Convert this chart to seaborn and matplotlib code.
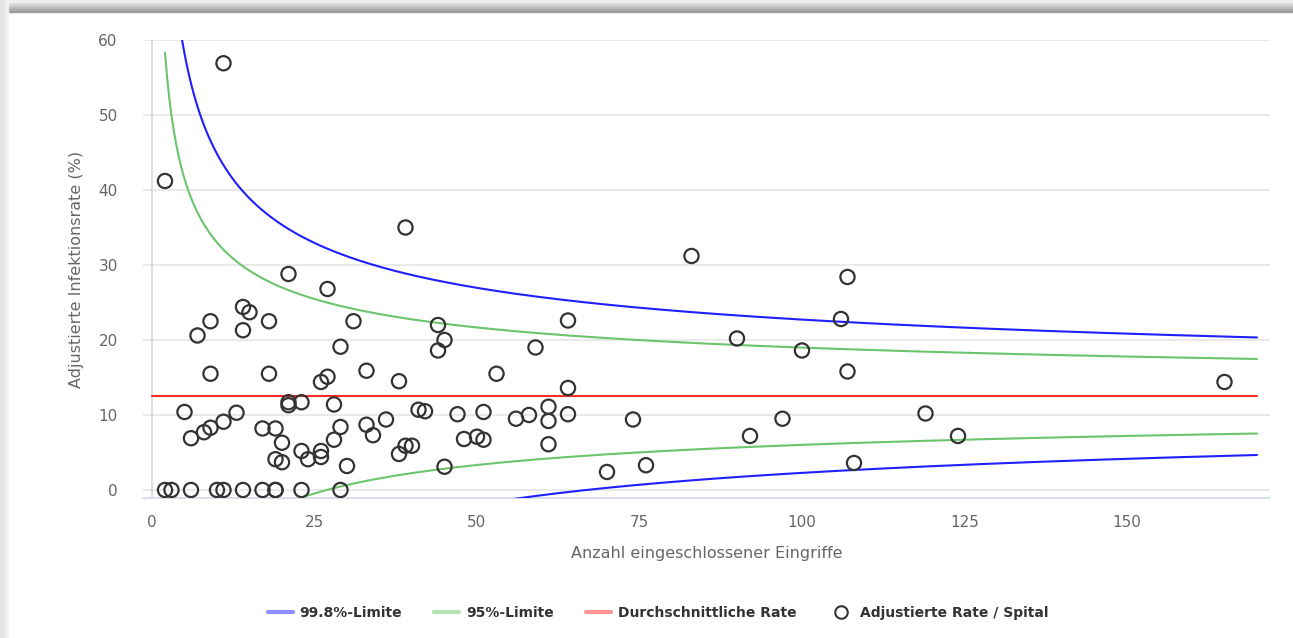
import numpy as np
import pandas as pd
import matplotlib
matplotlib.use("Agg")
import matplotlib.pyplot as plt
from matplotlib.lines import Line2D
from matplotlib.patches import Rectangle
import seaborn as sns

sns.set_theme(style="white")
plt.rcParams['font.family'] = ['DejaVu Sans']

# funnel definition
avg_rate = 12.5          # Durchschnittliche Rate (%)
z_998 = 3.09             # 99.8%-Limite
z_95 = 1.96              # 95%-Limite
n_range = (2, 170)
avg_range = (0, 170)

# hospitals: number of included procedures / adjusted infection rate (%)
hosp_n = [2, 3, 6, 10, 11, 14, 17, 19, 19, 23, 29,
          2, 11, 39, 83, 107, 21, 27, 14, 15, 14, 18, 9, 7, 31, 44, 45, 44, 29,
          64, 59, 90, 106, 100, 107, 9, 18, 27, 26, 33, 38, 53, 64, 165,
          5, 13, 21, 21, 23, 28, 11, 9, 8, 6, 17, 19, 20, 19, 20, 23, 24, 26,
          26, 28, 29, 30, 33, 34, 36, 38, 39, 40, 41, 42, 47, 51, 48, 50, 51,
          45, 56, 58, 61, 61, 61, 64, 70, 74, 76, 92, 97, 108, 119, 124]
hosp_rate = [0, 0, 0, 0, 0, 0, 0, 0, 0, 0, 0,
             41.2, 56.9, 35.0, 31.2, 28.4, 28.8, 26.8, 24.4, 23.7, 21.3, 22.5, 22.5, 20.6, 22.5, 22.0, 20.0, 18.6, 19.1,
             22.6, 19.0, 20.2, 22.8, 18.6, 15.8, 15.5, 15.5, 15.1, 14.4, 15.9, 14.5, 15.5, 13.6, 14.4,
             10.4, 10.3, 11.7, 11.3, 11.7, 11.4, 9.1, 8.3, 7.7, 6.9, 8.2, 8.2, 6.3, 4.1, 3.7, 5.2, 4.1, 5.2,
             4.4, 6.7, 8.4, 3.2, 8.7, 7.3, 9.4, 4.8, 5.9, 5.9, 10.7, 10.5, 10.1, 10.4, 6.8, 7.1, 6.7,
             3.1, 9.5, 10.0, 11.1, 9.2, 6.1, 10.1, 2.4, 9.4, 3.3, 7.2, 9.5, 3.6, 10.2, 7.2]

x_ticks = [0, 25, 50, 75, 100, 125, 150]
y_ticks = [0, 10, 20, 30, 40, 50, 60]

c_blue = '#1f1fff'
c_green = '#6cc46c'
c_red = '#ff2a2a'
c_text = '#666666'

# control limits around the average rate
p = avg_rate / 100
n = np.linspace(n_range[0], n_range[1], 500)
se = np.sqrt(p * (1 - p) / n) * 100
limits = pd.DataFrame({
    'n': n,
    'up998': avg_rate + z_998 * se, 'lo998': avg_rate - z_998 * se,
    'up95': avg_rate + z_95 * se, 'lo95': avg_rate - z_95 * se,
})
avg_line = pd.DataFrame({'n': list(avg_range), 'avg': [avg_rate, avg_rate]})
points = pd.DataFrame({'n': hosp_n, 'rate': hosp_rate})

fig = plt.figure(figsize=(12.93, 6.38), dpi=100)
fig.patch.set_facecolor('white')

# screenshot frame shadow (top bar + left edge)
for i, g in enumerate(['#9a9a9a', '#a8a8a8', '#b8b8b8', '#cacaca', '#dcdcdc', '#eeeeee']):
    fig.patches.append(Rectangle((0, 1 - (12 - 2 * i) / 638), 1, 2 / 638, transform=fig.transFigure,
                                 color=g, zorder=0))
fig.patches.append(Rectangle((0, 0), 5 / 1293, 1, transform=fig.transFigure, color='#e4e4e4', zorder=0))
fig.patches.append(Rectangle((5 / 1293, 0), 3 / 1293, 1, transform=fig.transFigure, color='#f2f2f2', zorder=0))

ax = fig.add_axes([142.7 / 1293, 1 - 498 / 638, (1270 - 142.7) / 1293, (498 - 40) / 638])
ax.set_facecolor('none')

for col, color in [('up998', c_blue), ('lo998', c_blue), ('up95', c_green), ('lo95', c_green)]:
    sns.lineplot(data=limits, x='n', y=col, color=color, lw=1.5, ax=ax, legend=False, zorder=3)
sns.lineplot(data=avg_line, x='n', y='avg', color=c_red, lw=1.5, ax=ax, legend=False, zorder=3)

sns.scatterplot(data=points, x='n', y='rate', ax=ax, s=105, facecolors='none',
                edgecolor='#333333', linewidth=1.6, zorder=4, legend=False)

ax.set_xlim(-1.43, 172)
ax.set_ylim(-1.07, 60)
ax.set_xticks(x_ticks)
ax.set_yticks(y_ticks)
ax.grid(axis='y', color='#e3e3e3', lw=1.1)
ax.grid(axis='x', visible=False)
ax.axvline(0, color='#d4d4d4', lw=1.1, zorder=1)
for s in ['top', 'right', 'left']:
    ax.spines[s].set_visible(False)
ax.spines['bottom'].set_color('#ccd6eb')
ax.spines['bottom'].set_linewidth(1.1)
ax.tick_params(axis='x', colors='#ccd6eb', length=8, width=1, pad=4, labelcolor=c_text, labelsize=11)
ax.tick_params(axis='y', length=0, pad=18, labelcolor=c_text, labelsize=11)

ax.set_xlabel('Anzahl eingeschlossener Eingriffe', color=c_text, fontsize=11.5, labelpad=12)
ax.set_ylabel('Adjustierte Infektionsrate (%)', color=c_text, fontsize=11.5, labelpad=10)

handles = [
    Line2D([], [], color=c_blue, alpha=0.5, lw=3),
    Line2D([], [], color=c_green, alpha=0.5, lw=3),
    Line2D([], [], color=c_red, alpha=0.5, lw=3),
    Line2D([], [], ls='none', marker='o', markersize=9, markerfacecolor='none',
           markeredgecolor='#333333', markeredgewidth=1.5),
]
labels = ['99.8%-Limite', '95%-Limite', 'Durchschnittliche Rate', 'Adjustierte Rate / Spital']
leg = fig.legend(handles, labels, loc='center', bbox_to_anchor=(0.509, 1 - 613 / 638), ncol=4,
                 frameon=False, handlelength=1.8, columnspacing=2.3, handletextpad=0.5,
                 prop={'size': 10, 'weight': 'bold'})
for t in leg.get_texts():
    t.set_color('#333333')

fig.savefig('out.png', dpi=100)
